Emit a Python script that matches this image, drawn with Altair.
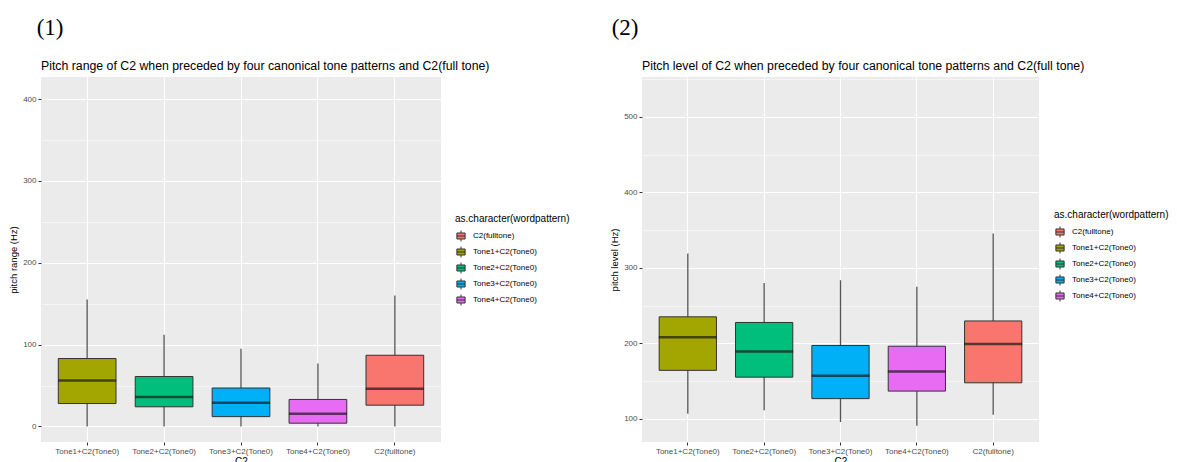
import altair as alt
import pandas as pd

# categories
cats_order = ["Tone1+C2(Tone0)", "Tone2+C2(Tone0)", "Tone3+C2(Tone0)", "Tone4+C2(Tone0)", "C2(fulltone)"]
legend_order = ["C2(fulltone)", "Tone1+C2(Tone0)", "Tone2+C2(Tone0)", "Tone3+C2(Tone0)", "Tone4+C2(Tone0)"]
legend_colors = ["#F8766D", "#A3A500", "#00BF7D", "#00B0F6", "#E76BF3"]

# (1) pitch range (Hz), in cats_order
range_lo = [0, 0, 0, 0, 0]
range_q1 = [28, 24, 12, 4, 26]
range_med = [56, 36, 29, 15.5, 46]
range_q3 = [83, 61, 47, 33, 87]
range_hi = [155, 112, 95, 77, 160]

# (2) pitch level (Hz), in cats_order
level_lo = [106.5, 111, 95.5, 90.5, 105]
level_q1 = [164, 155, 126.5, 136.5, 147.5]
level_med = [208, 189, 157, 162.5, 199]
level_q3 = [235, 227.5, 197, 196, 229.5]
level_hi = [319, 280, 283.5, 275, 345.5]

range_ticks = [0, 50, 100, 150, 200, 250, 300, 350, 400]
level_ticks = [100, 150, 200, 250, 300, 350, 400, 450, 500, 550]

FONT = "Liberation Sans"
KEY = "M-0.75,-0.55H0.75V0.55H-0.75Z M-0.75,0H0.75 M0,-0.55V-1 M0,0.55V1"


def panel(lo, q1, med, q3, hi, ytitle, title, domain, ticks, width, height, lx, ly):
    df = pd.DataFrame({"cat": cats_order, "lo": lo, "q1": q1, "med": med, "q3": q3, "hi": hi})
    xenc = alt.X(
        "cat:N",
        sort=cats_order,
        scale=alt.Scale(paddingInner=0.25, paddingOuter=0.225),
        axis=alt.Axis(
            title="C2", labelAngle=0, bandPosition=0.5, grid=True, gridWidth=1.1,
            labelPadding=2, titlePadding=1, titleFontSize=10,
        ),
    )
    yscale = alt.Scale(domain=domain, nice=False, zero=False)
    yaxis = alt.Axis(
        title=ytitle,
        values=ticks,
        labelExpr="datum.value % 100 == 0 ? datum.label : ''",
        tickColor={"condition": {"test": "datum.value % 100 != 0", "value": "transparent"}, "value": "#333333"},
        gridWidth={"condition": {"test": "datum.value % 100 != 0", "value": 0.5}, "value": 1.1},
        labelPadding=2,
        titlePadding=4,
    )
    base = alt.Chart(df).encode(x=xenc)
    whisker = base.mark_rule(color="#555555", strokeWidth=1.3).encode(
        y=alt.Y("lo:Q", scale=yscale, axis=yaxis), y2="hi:Q"
    )
    box = base.mark_bar(stroke="#333333", strokeWidth=1, opacity=1).encode(
        y="q1:Q",
        y2="q3:Q",
        fill=alt.Fill(
            "cat:N",
            scale=alt.Scale(domain=legend_order, range=legend_colors),
            legend=alt.Legend(
                title="as.character(wordpattern)",
                orient="none",
                legendX=lx,
                legendY=ly,
                symbolType=KEY,
                symbolSize=120,
                symbolStrokeColor="#333333",
                symbolStrokeWidth=1,
                symbolOpacity=1,
                titleFontSize=10,
                titleFontWeight="normal",
                titleColor="black",
                titlePadding=6,
                labelFontSize=8,
                labelColor="black",
                rowPadding=0,
                labelOffset=6,
                padding=0,
            ),
        ),
    )
    median = base.mark_tick(color="#1a1a1a", thickness=2.5, size=58).encode(y="med:Q")
    return (whisker + box + median).properties(
        width=width,
        height=height,
        title=alt.Title(title, anchor="start", frame="group", fontSize=12.3, fontWeight="normal",
                        font=FONT, color="black", offset=5),
    )


p1 = panel(range_lo, range_q1, range_med, range_q3, range_hi, "pitch range (Hz)",
           "Pitch range of C2 when preceded by four canonical tone patterns and C2(full tone)",
           [-19, 427], range_ticks, 400, 365, 414, 137)
p2 = panel(level_lo, level_q1, level_med, level_q3, level_hi, "pitch level (Hz)",
           "Pitch level of C2 when preceded by four canonical tone patterns and C2(full tone)",
           [69, 553], level_ticks, 397, 365, 412, 133)

lab_style = dict(anchor="start", font="Liberation Serif", fontSize=23, fontWeight="normal", color="black", offset=20)
left = alt.VConcatChart(vconcat=[p1]).properties(title=alt.Title("(1)", dx=28, **lab_style))
right = alt.VConcatChart(vconcat=[p2]).properties(title=alt.Title("(2)", dx=2, **lab_style))

chart = (
    alt.hconcat(left, right, spacing=39)
    .resolve_scale(y="independent", x="independent", fill="independent")
    .resolve_legend(fill="independent")
    .properties(padding={"left": 0, "top": 8, "right": 0, "bottom": 0})
    .configure(font=FONT)
    .configure_view(fill="#EBEBEB", stroke=None)
    .configure_axis(
        labelFont=FONT, labelFontSize=8, labelColor="#4D4D4D", titleFont=FONT, titleFontSize=9.5,
        titleFontWeight="normal", titleColor="black", domain=False, tickColor="#333333",
        tickSize=3, gridColor="white",
    )
    .configure_legend(labelFont=FONT, titleFont=FONT)
)

chart.save("out.html", embed_options={"renderer": "svg", "actions": False})
